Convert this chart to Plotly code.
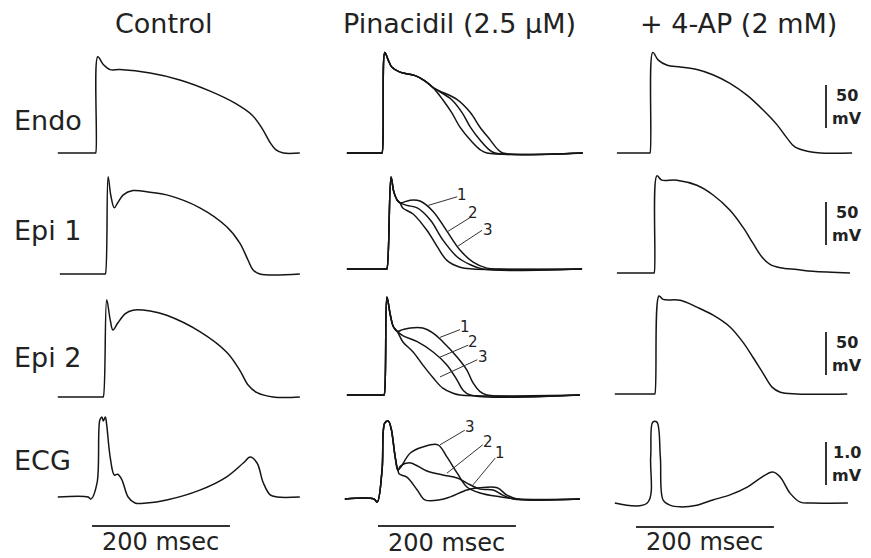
import plotly.graph_objects as go

# ------------------------------------------------------------------
# DATA  (time in ms, membrane potential in mV, ECG in mV)
# ------------------------------------------------------------------
columns = ["Control", "Pinacidil (2.5 μM)", "+ 4-AP (2 mM)"]
rows = ["Endo", "Epi 1", "Epi 2", "ECG"]
rest_mv = -85

# Control
ctrl_endo_t = [4, 58, 59, 62, 70, 80, 94, 138, 181, 225, 261, 286, 300, 312, 320, 331, 355]
ctrl_endo_v = [-85, -85, -85, 27, 18, 12, 12, 8, 0, -13, -27, -41, -56, -73, -81, -85, -85]
ctrl_epi1_t = [7, 72, 73, 77, 81, 86, 91, 99, 113, 138, 162, 210, 249, 268, 280, 287, 297, 355]
ctrl_epi1_v = [-85, -85, -85, 28, 6, -8, -2, 7, 12, 10, 7, -8, -30, -49, -69, -80, -85, -85]
ctrl_epi2_t = [4, 69, 70, 75, 80, 84, 91, 102, 113, 138, 162, 210, 249, 268, 280, 293, 316, 355]
ctrl_epi2_v = [-85, -85, -85, 28, 5, -7, 1, 12, 16, 15, 10, -9, -33, -54, -71, -80, -85, -85]
ctrl_ecg_t = [4, 48, 52, 61, 65, 68, 70, 73, 75, 80, 86, 91, 97, 106, 116, 133, 162, 210, 249,
              273, 283, 293, 302, 312, 322, 355]
ctrl_ecg_v = [0, 0, -0.05, 0.33, 1.79, 1.86, 1.77, 1.86, 1.67, 0.93, 0.51, 0.53, 0.40, 0, -0.14,
              -0.14, -0.07, 0.16, 0.47, 0.79, 0.93, 0.79, 0.33, 0.05, 0, 0]

# Pinacidil: common early part + three recordings (1, 2, 3)
pin_endo_common_t = [10, 60, 61, 65, 70, 75, 87, 109, 123, 135]
pin_endo_common_v = [-85, -85, -85, 32, 23, 15, 9, 5, -1, -9]
pin_endo_tail_t = [[149, 162, 174, 189, 203, 213, 352],
                   [141, 162, 177, 189, 203, 216, 225, 352],
                   [145, 170, 189, 203, 218, 229, 236, 352]]
pin_endo_tail_v = [[-23, -38, -55, -70, -81, -85, -85],
                   [-12, -23, -38, -55, -70, -81, -85, -85],
                   [-13, -23, -38, -55, -70, -81, -85, -85]]

pin_epi1_common_t = [10, 67, 68, 74, 78, 83, 87]
pin_epi1_common_v = [-85, -85, -85, 22, 5, -5, -8]
pin_epi1_tail_t = [[102, 116, 135, 155, 174, 193, 213, 232, 351],
                   [97, 112, 131, 149, 170, 189, 207, 351],
                   [91, 106, 126, 141, 155, 174, 193, 351]]
pin_epi1_tail_v = [[-5, -6, -18, -41, -63, -77, -84, -85, -85],
                   [-11, -14, -28, -51, -71, -80, -85, -85],
                   [-14, -21, -40, -59, -75, -83, -85, -85]]

pin_epi2_common_t = [10, 63, 64, 68, 73, 77, 83]
pin_epi2_common_v = [-85, -85, -85, 29, 8, -5, -11]
pin_epi2_tail_t = [[91, 102, 120, 135, 149, 170, 184, 193, 203, 213, 348],
                   [91, 112, 135, 155, 170, 178, 189, 348],
                   [91, 106, 120, 135, 149, 164, 174, 348]]
pin_epi2_tail_v = [[-9, -7, -7, -13, -23, -41, -56, -71, -81, -85, -85],
                   [-16, -23, -35, -50, -68, -79, -85, -85],
                   [-23, -35, -50, -65, -77, -83, -85, -85]]

pin_ecg_common_t = [7, 49, 54, 61, 65, 70, 74, 80, 84]
pin_ecg_common_v = [0, 0, -0.07, 0.67, 1.77, 1.81, 1.65, 0.98, 0.67]
pin_ecg_tail_t = [[86, 97, 112, 123, 145, 160, 184, 203, 228, 242, 257, 348],
                  [88, 102, 126, 149, 170, 184, 203, 222, 236, 251, 348],
                  [88, 102, 120, 142, 155, 170, 184, 203, 232, 257, 348]]
pin_ecg_tail_v = [[0.58, 0.51, 0.21, -0.02, -0.02, 0.05, 0.21, 0.26, 0.26, 0.09, 0, 0],
                  [0.77, 0.84, 0.65, 0.56, 0.49, 0.37, 0.23, 0.21, 0.09, 0, 0],
                  [0.74, 1.07, 1.21, 1.26, 0.98, 0.60, 0.28, 0.14, 0.05, 0, 0]]

# + 4-AP
ap_endo_t = [10, 57, 58, 62, 70, 83, 102, 126, 149, 174, 199, 222, 242, 257, 268, 286, 305, 351]
ap_endo_v = [-85, -85, -85, 32, 23, 17, 15, 12, 6, -4, -18, -35, -52, -68, -78, -83, -85, -85]
ap_epi1_t = [10, 63, 64, 68, 75, 97, 126, 149, 174, 193, 207, 220, 232, 247, 271, 294, 348]
ap_epi1_v = [-85, -85, -85, 28, 23, 23, 17, 6, -12, -32, -50, -66, -75, -79, -81, -83, -85]
ap_epi2_t = [7, 64, 65, 71, 77, 102, 126, 149, 174, 193, 207, 222, 235, 247, 271, 344]
ap_epi2_v = [-85, -85, -85, 29, 25, 24, 16, 7, -7, -25, -42, -61, -77, -83, -85, -85]
ap_ecg_t = [7, 54, 59, 62, 68, 73, 77, 87, 102, 126, 149, 174, 199, 218, 236, 247, 261, 276, 294, 345]
ap_ecg_v = [0, 0, 1.07, 1.88, 1.88, 1.07, 0.07, -0.05, -0.09, -0.05, 0.07, 0.19, 0.37, 0.58,
            0.72, 0.60, 0.23, 0.02, 0, 0]

# leader lines / labels for the Pinacidil recordings: (label, label pos, leader start, leader end)
pin_labels = {
    "Epi 1": [("1", (177, 1), (170, -1), (128, -11)),
              ("2", (193, -20), (189, -25), (155, -42)),
              ("3", (215, -40), (206, -40), (170, -59))],
    "Epi 2": [("1", (181, -6), (174, -9), (145, -18)),
              ("2", (193, -23), (186, -27), (145, -41)),
              ("3", (207, -41), (199, -44), (145, -64))],
    "ECG": [("3", (189, 1.67), (181, 1.60), (145, 1.26)),
            ("2", (215, 1.33), (207, 1.26), (155, 0.60)),
            ("1", (232, 1.07), (225, 0.95), (193, 0.33))],
}

# calibration bars
mv_bar = 50          # mV
ecg_bar = 1.0        # mV
time_bar = 200       # ms
mv_bar_text = ["50", "mV"]
ecg_bar_text = ["1.0", "mV"]
time_bar_text = "200 msec"

# ------------------------------------------------------------------
# LAYOUT GEOMETRY (pixels)
# ------------------------------------------------------------------
W, H = 871, 558
PX_PER_MS = 1 / 1.45
PX_PER_MV = 1 / 1.163
PX_PER_MV_ECG = 43.0
T_RANGE = [0, 360]
AP_RANGE = [-100, 45]
ECG_RANGE = [-1.2, 2.1]
col_left = [55, 340, 610]
base_px = {"Endo": [153, 153, 153], "Epi 1": [274, 269, 273],
           "Epi 2": [397, 395, 394], "ECG": [497, 499, 503]}

FONT = "DejaVu Sans"
INK = "#151515"
TXT = "#222222"
LW = 1.5


def join(a, b):
    return list(a) + list(b)


panels = {
    ("Endo", 0): [(ctrl_endo_t, ctrl_endo_v)],
    ("Epi 1", 0): [(ctrl_epi1_t, ctrl_epi1_v)],
    ("Epi 2", 0): [(ctrl_epi2_t, ctrl_epi2_v)],
    ("ECG", 0): [(ctrl_ecg_t, ctrl_ecg_v)],
    ("Endo", 1): [(join(pin_endo_common_t, pin_endo_tail_t[i]), join(pin_endo_common_v, pin_endo_tail_v[i])) for i in range(3)],
    ("Epi 1", 1): [(join(pin_epi1_common_t, pin_epi1_tail_t[i]), join(pin_epi1_common_v, pin_epi1_tail_v[i])) for i in range(3)],
    ("Epi 2", 1): [(join(pin_epi2_common_t, pin_epi2_tail_t[i]), join(pin_epi2_common_v, pin_epi2_tail_v[i])) for i in range(3)],
    ("ECG", 1): [(join(pin_ecg_common_t, pin_ecg_tail_t[i]), join(pin_ecg_common_v, pin_ecg_tail_v[i])) for i in range(3)],
    ("Endo", 2): [(ap_endo_t, ap_endo_v)],
    ("Epi 1", 2): [(ap_epi1_t, ap_epi1_v)],
    ("Epi 2", 2): [(ap_epi2_t, ap_epi2_v)],
    ("ECG", 2): [(ap_ecg_t, ap_ecg_v)],
}

fig = go.Figure()
layout = dict(width=W, height=H, margin=dict(l=0, r=0, t=0, b=0, pad=0),
              paper_bgcolor="white", plot_bgcolor="rgba(0,0,0,0)", showlegend=False)
annotations = []

# calibration bar positions (pixels) in the right column
bar_x_px = 826
bar_bottom_px = {"Endo": 128, "Epi 1": 245, "Epi 2": 375, "ECG": 485}
bar_text_dx_px = 21
bar_text_dy_px = 11.5
time_bar_left_px = [92, 378, 636]
time_bar_y_px = [526, 526, 527]
time_text_y_px = [542, 543, 542]

k = 0
for r, row in enumerate(rows):
    for c in range(3):
        k += 1
        xa = "x" if k == 1 else f"x{k}"
        ya = "y" if k == 1 else f"y{k}"
        xkey = "xaxis" if k == 1 else f"xaxis{k}"
        ykey = "yaxis" if k == 1 else f"yaxis{k}"
        left = col_left[c]
        right = left + (T_RANGE[1] - T_RANGE[0]) * PX_PER_MS
        base = base_px[row][c]
        if row == "ECG":
            rng = ECG_RANGE
            ppm = PX_PER_MV_ECG
            bottom = base + (0 - rng[0]) * ppm
        else:
            rng = AP_RANGE
            ppm = PX_PER_MV
            bottom = base + (rest_mv - rng[0]) * ppm
        top = bottom - (rng[1] - rng[0]) * ppm
        layout[xkey] = dict(domain=[left / W, right / W], range=T_RANGE, visible=False,
                            anchor=ya, fixedrange=True)
        layout[ykey] = dict(domain=[1 - bottom / H, 1 - top / H], range=rng, visible=False,
                            anchor=xa, fixedrange=True)

        for (tt, vv) in panels[(row, c)]:
            fig.add_trace(go.Scatter(x=tt, y=vv, xaxis=xa, yaxis=ya, mode="lines",
                                     line=dict(color=INK, width=LW, shape="spline", smoothing=1),
                                     hoverinfo="skip"))

        # Pinacidil recording numbers and leaders
        if c == 1 and row in pin_labels:
            for (lab, lp, l0, l1) in pin_labels[row]:
                fig.add_trace(go.Scatter(x=[l0[0], l1[0]], y=[l0[1], l1[1]], xaxis=xa, yaxis=ya,
                                         mode="lines", line=dict(color="#333333", width=1),
                                         hoverinfo="skip"))
                annotations.append(dict(x=lp[0], y=lp[1], xref=xa, yref=ya, text=lab,
                                        xanchor="center", yanchor="middle", showarrow=False,
                                        font=dict(family=FONT, size=15, color=TXT)))

        # voltage calibration bars on the right
        if c == 2:
            t_bar = (bar_x_px - left) / PX_PER_MS
            if row == "ECG":
                v0 = (base - bar_bottom_px[row]) / ppm
                v1 = v0 + ecg_bar
                labels = ecg_bar_text
            else:
                v0 = rest_mv + (base - bar_bottom_px[row]) / ppm
                v1 = v0 + mv_bar
                labels = mv_bar_text
            fig.add_trace(go.Scatter(x=[t_bar, t_bar], y=[v0, v1], xaxis=xa, yaxis=ya, mode="lines",
                                     line=dict(color="#333333", width=2), hoverinfo="skip"))
            tx = t_bar + bar_text_dx_px / PX_PER_MS
            vmid = (v0 + v1) / 2
            dv = bar_text_dy_px / ppm
            annotations.append(dict(x=tx, y=vmid + dv, xref=xa, yref=ya, text=labels[0],
                                    xanchor="center", yanchor="middle", showarrow=False,
                                    font=dict(family=FONT, size=16, color=TXT, weight="bold")))
            annotations.append(dict(x=tx, y=vmid - dv, xref=xa, yref=ya, text=labels[1],
                                    xanchor="center", yanchor="middle", showarrow=False,
                                    font=dict(family=FONT, size=16, color=TXT, weight="bold")))

        # time calibration bars under the ECG
        if row == "ECG":
            t0 = (time_bar_left_px[c] - left) / PX_PER_MS
            vb = (base - time_bar_y_px[c]) / ppm
            fig.add_trace(go.Scatter(x=[t0, t0 + time_bar], y=[vb, vb], xaxis=xa, yaxis=ya,
                                     mode="lines", line=dict(color="#333333", width=2),
                                     hoverinfo="skip"))
            vt = (base - time_text_y_px[c]) / ppm
            annotations.append(dict(x=t0 + time_bar / 2, y=vt, xref=xa, yref=ya, text=time_bar_text,
                                    xanchor="center", yanchor="middle", showarrow=False,
                                    font=dict(family=FONT, size=24, color=TXT)))

# column titles and row labels
title_x_px = [164, 460, 738]
for c, name in enumerate(columns):
    annotations.append(dict(x=title_x_px[c] / W, y=1 - 24 / H, xref="paper", yref="paper",
                            text=name, showarrow=False, xanchor="center", yanchor="middle",
                            font=dict(family=FONT, size=27, color=TXT)))
row_label_y_px = [120, 230, 357, 460]
for r, name in enumerate(rows):
    annotations.append(dict(x=12 / W, y=1 - row_label_y_px[r] / H, xref="paper", yref="paper",
                            text=name, showarrow=False, xanchor="left", yanchor="middle",
                            font=dict(family=FONT, size=27, color=TXT)))

layout["annotations"] = annotations
fig.update_layout(**layout)
fig.write_html("out.html", config={"displayModeBar": False},
               post_script="document.body.style.margin='0';document.body.style.padding='0';")
